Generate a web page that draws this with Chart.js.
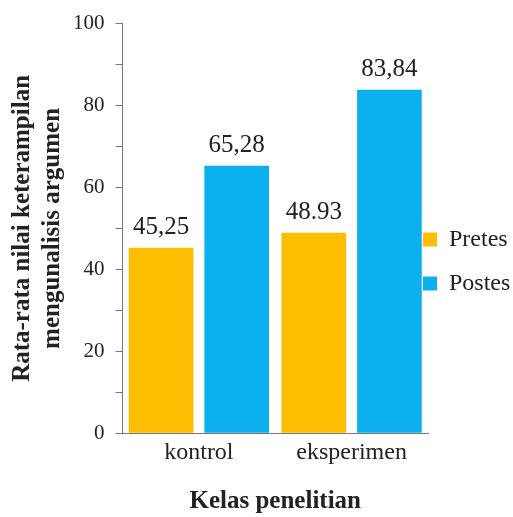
<!DOCTYPE html>
<html>
<head>
<meta charset="utf-8">
<script src="https://cdn.jsdelivr.net/npm/chart.js@4"></script>
<style>
html, body { margin: 0; padding: 0; background: #fff; }
#wrap { width: 513px; height: 517px; }
</style>
</head>
<body>
<div id="wrap"><canvas id="chart"></canvas></div>
<script>
var categories = ['kontrol', 'eksperimen'];
var pretes = [45.25, 48.93];
var postes = [65.28, 83.84];
var pretesLabels = ['45,25', '48.93'];
var postesLabels = ['65,28', '83,84'];

var serif = "'Liberation Serif', 'Times New Roman', serif";
Chart.defaults.font.family = serif;
Chart.defaults.color = '#222';

// draws the value above each bar
var valueLabels = {
    id: 'valueLabels',
    afterDatasetsDraw: function(chart) {
        var ctx = chart.ctx;
        ctx.save();
        ctx.font = '25px ' + serif;
        ctx.fillStyle = '#222';
        ctx.textAlign = 'center';
        ctx.textBaseline = 'alphabetic';
        chart.data.datasets.forEach(function(ds, i) {
            var meta = chart.getDatasetMeta(i);
            meta.data.forEach(function(bar, j) {
                ctx.fillText(ds.valueText[j], bar.x, bar.y - 14);
            });
        });
        ctx.restore();
    }
};

// legend starts a bit inside the plot's right margin, like the original
var legendShift = {
    id: 'legendShift',
    afterLayout: function(chart) {
        chart.legend.left -= 25;
    }
};

var ctx = document.getElementById('chart').getContext('2d');
var myChart = new Chart(ctx, {
    type: 'bar',
    data: {
        labels: categories,
        datasets: [{
            label: 'Pretes',
            data: pretes,
            valueText: pretesLabels,
            backgroundColor: '#FDBD00',
            categoryPercentage: 0.99,
            barPercentage: 0.855
        }, {
            label: 'Postes',
            data: postes,
            valueText: postesLabels,
            backgroundColor: '#0BB0EC',
            categoryPercentage: 0.99,
            barPercentage: 0.855
        }]
    },
    options: {
        responsive: true,
        maintainAspectRatio: false,
        animation: false,
        layout: { padding: { top: 6, right: 0, bottom: 0, left: 4 } },
        plugins: {
            legend: {
                position: 'right',
                maxWidth: 85,
                labels: {
                    font: { family: serif, size: 24 },
                    color: '#222',
                    boxWidth: 14,
                    boxHeight: 14,
                    padding: 20
                }
            },
            tooltip: { enabled: false }
        },
        scales: {
            x: {
                grid: { drawOnChartArea: false, drawTicks: false },
                border: { color: '#777', width: 1 },
                ticks: { font: { family: serif, size: 24 }, color: '#222', padding: 5 },
                title: {
                    display: true,
                    text: 'Kelas penelitian',
                    font: { family: serif, size: 25, weight: 'bold' },
                    color: '#222',
                    padding: { top: 15, bottom: 0 }
                }
            },
            y: {
                min: 0,
                max: 100,
                grid: { drawOnChartArea: false, tickLength: 7, color: '#777' },
                border: { color: '#777', width: 1 },
                ticks: {
                    stepSize: 10,
                    font: { family: serif, size: 21 },
                    color: '#222',
                    padding: 11,
                    callback: function(v) { return v % 20 === 0 ? v : ''; }
                },
                title: {
                    display: true,
                    text: ['Rata-rata nilai keterampilan', 'mengunalisis argumen'],
                    font: { family: serif, size: 25, weight: 'bold', lineHeight: 1.2 },
                    color: '#222',
                    padding: { top: 4, bottom: -6 }
                }
            }
        }
    },
    plugins: [valueLabels, legendShift]
});
</script>
</body>
</html>
